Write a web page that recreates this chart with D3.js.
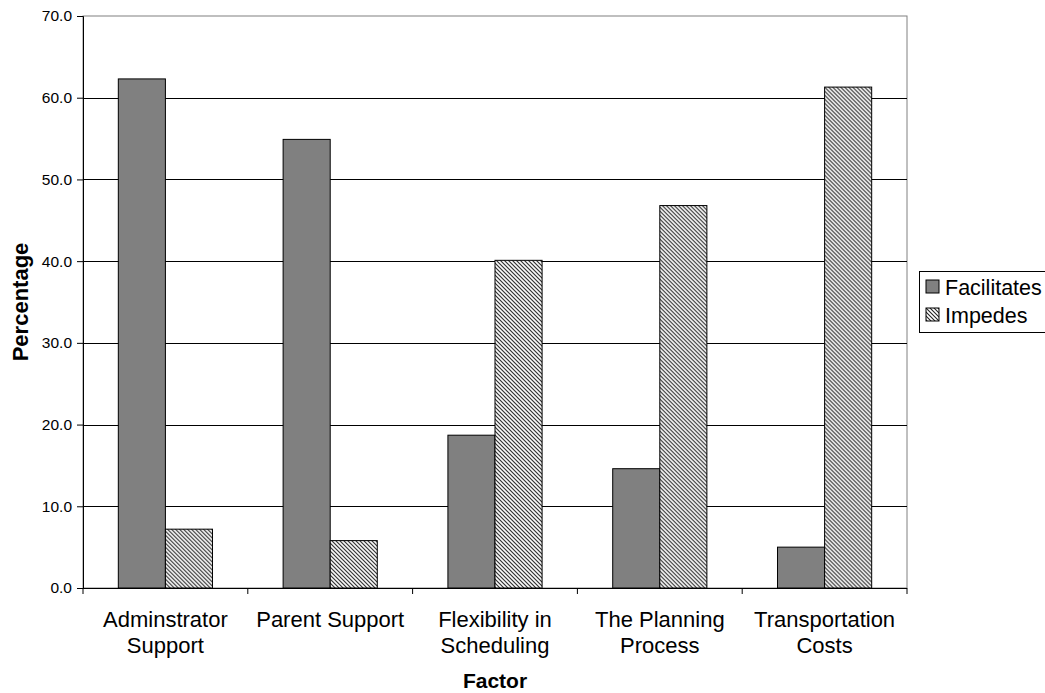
<!DOCTYPE html>
<html>
<head>
<meta charset="utf-8">
<script src="https://cdn.jsdelivr.net/npm/d3@7"></script>
<style>
  html, body { margin: 0; padding: 0; background: #fff; }
  svg { display: block; font-family: Arial, "Liberation Sans", sans-serif; }
</style>
</head>
<body>
<svg id="chart" width="1045" height="693"></svg>
<script>
// Share of respondents citing each factor as facilitating or impeding
const categories = [
  ["Adminstrator", "Support"],
  ["Parent Support"],
  ["Flexibility in", "Scheduling"],
  ["The Planning", "Process"],
  ["Transportation", "Costs"]
];
const seriesNames = ["Facilitates", "Impedes"];
const facilitates = [62.3, 54.9, 18.7, 14.6, 5.0];
const impedes = [7.2, 5.8, 40.1, 46.8, 61.3];
const yTicks = [0, 10, 20, 30, 40, 50, 60, 70];

const svg = d3.select("#chart");
const plot = { left: 83, right: 907, top: 16, bottom: 588 };

const catKeys = categories.map((c, i) => i);
const x = d3.scaleBand()
  .domain(catKeys)
  .range([plot.left, plot.right])
  .paddingInner(1.5 / 3.5)
  .paddingOuter(0.75 / 3.5);
const xs = d3.scaleBand().domain(seriesNames).range([0, x.bandwidth()]);
const y = d3.scaleLinear().domain([0, 70]).range([plot.bottom, plot.top]);

// Diagonal hatch for the "Impedes" series
const defs = svg.append("defs");
const pat = defs.append("pattern")
  .attr("id", "hatch")
  .attr("patternUnits", "userSpaceOnUse")
  .attr("width", 4).attr("height", 4);
pat.append("rect").attr("width", 4).attr("height", 4).attr("fill", "#fff");
pat.append("path")
  .attr("d", "M-1,-1 L5,5 M-1,3 L1,5 M3,-1 L5,1")
  .attr("stroke", "#222").attr("stroke-width", 1.1);

const fills = { Facilitates: "#808080", Impedes: "url(#hatch)" };

// Plot area frame
svg.append("rect")
  .attr("x", plot.left).attr("y", plot.top)
  .attr("width", plot.right - plot.left).attr("height", plot.bottom - plot.top)
  .attr("fill", "#fff").attr("stroke", "#808080").attr("stroke-width", 1);

// Horizontal gridlines
svg.append("g").selectAll("line")
  .data(yTicks.filter(t => t > 0 && t < 70))
  .join("line")
  .attr("x1", plot.left).attr("x2", plot.right)
  .attr("y1", d => Math.round(y(d)) + 0.5).attr("y2", d => Math.round(y(d)) + 0.5)
  .attr("stroke", "#000").attr("stroke-width", 1);

// Bars
const rows = catKeys.map(i => ({ i, values: [
  { name: "Facilitates", v: facilitates[i] },
  { name: "Impedes", v: impedes[i] }
]}));
svg.append("g").selectAll("g")
  .data(rows)
  .join("g")
  .attr("transform", d => `translate(${x(d.i)},0)`)
  .selectAll("rect")
  .data(d => d.values)
  .join("rect")
  .attr("x", d => xs(d.name))
  .attr("y", d => y(d.v))
  .attr("width", xs.bandwidth())
  .attr("height", d => y(0) - y(d.v))
  .attr("fill", d => fills[d.name])
  .attr("stroke", "#000").attr("stroke-width", 1);

// Y axis
const yAxis = d3.axisLeft(y).tickValues(yTicks).tickFormat(d3.format(".1f"))
  .tickSize(6).tickPadding(5);
const gy = svg.append("g")
  .attr("transform", `translate(${plot.left},0)`)
  .call(yAxis);
gy.select(".domain").attr("stroke", "#000");
gy.selectAll(".tick line").attr("stroke", "#000");
gy.selectAll(".tick text")
  .attr("font-size", 15.5).attr("fill", "#000")
  .attr("font-family", "Arial, 'Liberation Sans', sans-serif");

// X axis: ticks at category boundaries
const gx = svg.append("g").attr("transform", `translate(0,${plot.bottom})`);
gx.append("line")
  .attr("x1", plot.left).attr("x2", plot.right)
  .attr("y1", 0.5).attr("y2", 0.5)
  .attr("stroke", "#000");
const step = x.step();
gx.selectAll("line.tick")
  .data(d3.range(categories.length + 1))
  .join("line")
  .attr("class", "tick")
  .attr("x1", d => plot.left + d * step).attr("x2", d => plot.left + d * step)
  .attr("y1", 0).attr("y2", 6)
  .attr("stroke", "#000");

// Category labels
gx.selectAll("text.cat")
  .data(categories.map((lines, i) => ({ lines, i })))
  .join("text")
  .attr("class", "cat")
  .attr("text-anchor", "middle")
  .attr("font-size", 22)
  .attr("fill", "#000")
  .attr("x", d => x(d.i) + x.bandwidth() / 2)
  .attr("y", 39)
  .selectAll("tspan")
  .data(d => d.lines.map(l => ({ l, cx: x(d.i) + x.bandwidth() / 2 })))
  .join("tspan")
  .attr("x", d => d.cx)
  .attr("dy", (d, k) => k === 0 ? 0 : 26)
  .text(d => d.l);

// Axis titles
svg.append("text")
  .attr("x", (plot.left + plot.right) / 2).attr("y", 688)
  .attr("text-anchor", "middle")
  .attr("font-size", 21).attr("font-weight", "bold")
  .text("Factor");
svg.append("text")
  .attr("transform", `translate(28,${(plot.top + plot.bottom) / 2}) rotate(-90)`)
  .attr("text-anchor", "middle")
  .attr("font-size", 22).attr("font-weight", "bold")
  .text("Percentage");

// Legend
const lg = svg.append("g").attr("transform", "translate(919,271)");
lg.append("rect")
  .attr("x", 0.5).attr("y", 0.5).attr("width", 140).attr("height", 61)
  .attr("fill", "#fff").attr("stroke", "#000");
const items = lg.selectAll("g.item")
  .data(seriesNames)
  .join("g")
  .attr("class", "item")
  .attr("transform", (d, i) => `translate(7,${9 + i * 28})`);
items.append("rect")
  .attr("width", 13).attr("height", 13)
  .attr("fill", d => fills[d])
  .attr("stroke", "#000");
items.append("text")
  .attr("x", 19).attr("y", 15)
  .attr("font-size", 21.5)
  .attr("fill", "#000")
  .text(d => d);
</script>
</body>
</html>
